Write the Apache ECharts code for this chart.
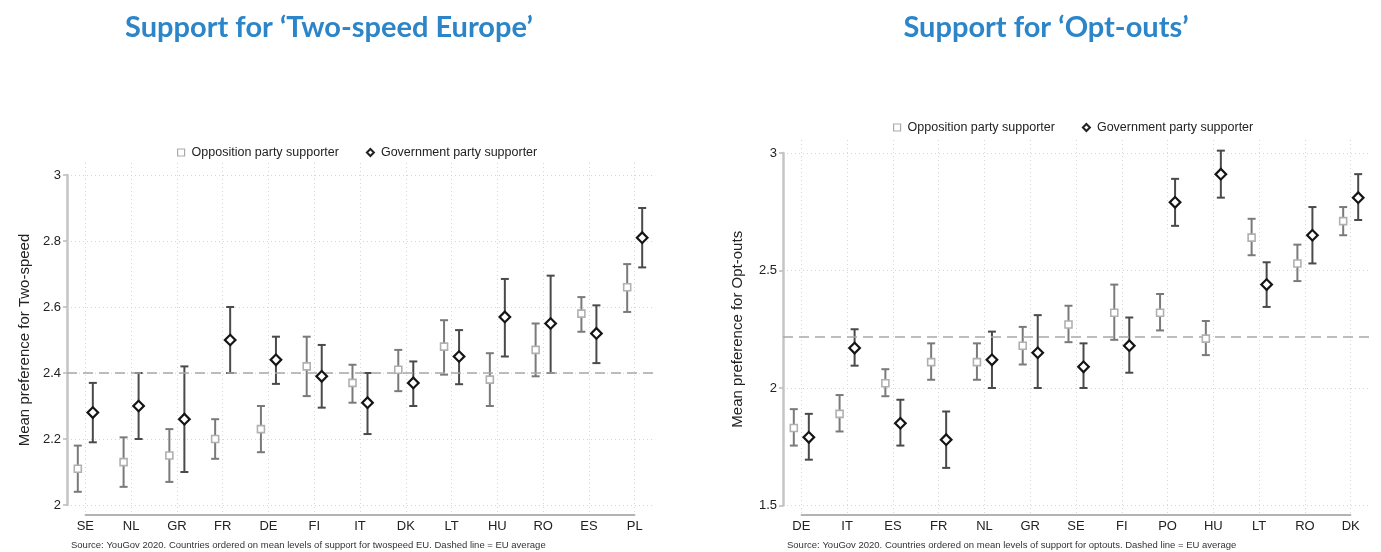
<!DOCTYPE html>
<html>
<head>
<meta charset="utf-8">
<script src="https://cdn.jsdelivr.net/npm/echarts@6/dist/echarts.min.js"></script>
<style>
html,body{margin:0;padding:0;background:#fff;}
#chart{width:1381px;height:552px;}
</style>
</head>
<body>
<div id="chart"></div>
<script>
// ---------- DATA ----------
const twoCats = ['SE','NL','GR','FR','DE','FI','IT','DK','LT','HU','RO','ES','PL'];
const twoOppMean = [2.11,2.13,2.15,2.20,2.23,2.42,2.37,2.41,2.48,2.38,2.47,2.58,2.66];
const twoOppLow  = [2.04,2.055,2.07,2.14,2.16,2.33,2.31,2.345,2.395,2.30,2.39,2.525,2.585];
const twoOppHigh = [2.18,2.205,2.23,2.26,2.30,2.51,2.425,2.47,2.56,2.46,2.55,2.63,2.73];
const twoGovMean = [2.28,2.30,2.26,2.50,2.44,2.39,2.31,2.37,2.45,2.57,2.55,2.52,2.81];
const twoGovLow  = [2.19,2.20,2.10,2.40,2.367,2.295,2.215,2.30,2.366,2.45,2.40,2.43,2.72];
const twoGovHigh = [2.37,2.40,2.42,2.60,2.51,2.485,2.40,2.435,2.53,2.685,2.695,2.605,2.90];
const twoEUAvg = 2.395;

const optCats = ['DE','IT','ES','FR','NL','GR','SE','FI','PO','HU','LT','RO','DK'];
const optOppMean = [1.83,1.89,2.02,2.11,2.11,2.18,2.27,2.32,2.32,2.21,2.64,2.53,2.71];
const optOppLow  = [1.755,1.815,1.965,2.035,2.035,2.10,2.195,2.205,2.245,2.14,2.565,2.455,2.65];
const optOppHigh = [1.91,1.97,2.08,2.19,2.19,2.26,2.35,2.44,2.40,2.285,2.72,2.61,2.77];
const optGovMean = [1.79,2.17,1.85,1.78,2.12,2.15,2.09,2.18,2.79,2.91,2.44,2.65,2.81];
const optGovLow  = [1.695,2.095,1.755,1.66,2.00,2.00,2.00,2.065,2.69,2.81,2.345,2.53,2.715];
const optGovHigh = [1.89,2.25,1.95,1.90,2.24,2.31,2.19,2.30,2.89,3.01,2.535,2.77,2.91];
const optEUAvg = 2.22;

const twoYTicks = [2, 3, 0.2];   // min, max, interval
const optYTicks = [1.5, 3, 0.5];

const OPP = 'Opposition party supporter';
const GOV = 'Government party supporter';
const SHIFT = 0.164;

// ---------- STYLE ----------
const FONT = '"Liberation Sans", Arial, Helvetica, sans-serif';
const OPP_BAR = '#7a7a7a', GOV_BAR = '#4a4a4a';

function errBar(color){
  return function(params, api){
    const x = api.value(0), lo = api.value(1), hi = api.value(2);
    const a = api.coord([x, hi]), b = api.coord([x, lo]);
    const c = 4;
    const st = {stroke: color, lineWidth: 2};
    return {type:'group', children:[
      {type:'line', shape:{x1:a[0],y1:a[1],x2:b[0],y2:b[1]}, style:st},
      {type:'line', shape:{x1:a[0]-c,y1:a[1],x2:a[0]+c,y2:a[1]}, style:st},
      {type:'line', shape:{x1:b[0]-c,y1:b[1],x2:b[0]+c,y2:b[1]}, style:st}
    ]};
  };
}

function panel(idx, cats, oppM, oppL, oppH, govM, govL, govH, avg, yt, geo){
  const g0 = idx*2, g1 = idx*2+1;
  const grids = [
    {left: geo.L, top: geo.yTop, width: 586, height: geo.yH},
    {left: geo.L + 0.4*586/12.8, top: geo.gTop, width: 12*586/12.8, height: 515 - geo.gTop}
  ];
  const xAxes = [
    {gridIndex:g0, type:'value', min:0.6, max:13.4, show:false},
    {gridIndex:g1, type:'value', min:1, max:13, interval:1, position:'bottom',
     axisLine:{show:true, lineStyle:{color:'#9a9a9a', width:1.5}},
     axisTick:{show:false},
     axisLabel:{margin:5, fontSize:13, color:'#222', fontFamily:FONT,
       formatter: v => cats[Math.round(v)-1] || ''},
     splitLine:{show:true, lineStyle:{color:'#d6d6d6', type:[1,3], width:1}}}
  ];
  const yAxes = [
    {gridIndex:g0, type:'value', min:yt[0], max:yt[1], interval:yt[2],
     name: geo.yName, nameLocation:'middle', nameRotate:90, nameGap: geo.nameGap,
     nameTextStyle:{fontSize:15, color:'#222', fontFamily:FONT},
     axisLine:{show:true, lineStyle:{color:'#c4c4c4', width:2.5}},
     axisTick:{show:true, length:4, lineStyle:{color:'#bbb', width:1.5}},
     axisLabel:{margin:6, fontSize:13, color:'#222', fontFamily:FONT},
     splitLine:{show:true, lineStyle:{color:'#d6d6d6', type:[1,3], width:1}}},
    {gridIndex:g1, type:'value', min:0, max:1, show:false}
  ];
  const oppX = cats.map((c,i)=> i+1-SHIFT);
  const govX = cats.map((c,i)=> i+1+SHIFT);
  const series = [
    {type:'custom', xAxisIndex:g0, yAxisIndex:g0, renderItem: errBar(OPP_BAR), clip:false, z:3,
     data: oppX.map((x,i)=>[x, oppL[i], oppH[i]]), silent:true},
    {type:'custom', xAxisIndex:g0, yAxisIndex:g0, renderItem: errBar(GOV_BAR), clip:false, z:3,
     data: govX.map((x,i)=>[x, govL[i], govH[i]]), silent:true},
    {name: OPP, type:'scatter', xAxisIndex:g0, yAxisIndex:g0, symbol:'rect', symbolSize:7, z:5,
     itemStyle:{color:'#fff', borderColor:'#b0b0b0', borderWidth:1.6, opacity:1},
     data: oppX.map((x,i)=>[x, oppM[i]]),
     markLine:{silent:true, symbol:'none', label:{show:false},
       lineStyle:{color:'#a8a8a8', type:[10,6], width:1.5},
       data:[{yAxis: avg}]}},
    {name: GOV, type:'scatter', xAxisIndex:g0, yAxisIndex:g0, symbol:'rect', symbolRotate:45, symbolSize:7.5, z:6,
     itemStyle:{color:'#fff', borderColor:'#151515', borderWidth:2.2, opacity:1},
     data: govX.map((x,i)=>[x, govM[i]])}
  ];
  const legend = {
    left: geo.legL, top: geo.legT, itemWidth:7, itemHeight:7, itemGap:27, selectedMode:false,
    textStyle:{fontSize:12.5, color:'#222', fontFamily:FONT, padding:[0,0,0,2]},
    data:[
      {name: OPP, icon:'rect', itemStyle:{color:'#fff', borderColor:'#aaa', borderWidth:1.2}},
      {name: GOV, icon:'path://M5,0L10,5L5,10L0,5Z', itemStyle:{color:'#fff', borderColor:'#222', borderWidth:2}}
    ]
  };
  return {grids, xAxes, yAxes, series, legend};
}

const P1 = panel(0, twoCats, twoOppMean, twoOppLow, twoOppHigh, twoGovMean, twoGovLow, twoGovHigh, twoEUAvg, twoYTicks,
  {L:67, yTop:175, yH:330, gTop:163, yName:'Mean preference for Two-speed', legL:172, legT:141, nameGap:35});
const P2 = panel(1, optCats, optOppMean, optOppLow, optOppHigh, optGovMean, optGovLow, optGovHigh, optEUAvg, optYTicks,
  {L:783, yTop:153, yH:352.5, gTop:140, yName:'Mean preference for Opt-outs', legL:888, legT:116, nameGap:38});

const chart = echarts.init(document.getElementById('chart'), null, {renderer:'canvas'});
chart.setOption({
  backgroundColor:'#fff',
  animation:false,
  grid: [...P1.grids, ...P2.grids],
  xAxis: [...P1.xAxes, ...P2.xAxes],
  yAxis: [...P1.yAxes, ...P2.yAxes],
  series: [...P1.series, ...P2.series],
  legend: [P1.legend, P2.legend],
  graphic: [
    {type:'text', x:329, y:28, style:{text:'Support for \u2018Two-speed Europe\u2019', textAlign:'center', textVerticalAlign:'middle',
      fill:'#2B85C8', font:'bold 29px Lato, "Open Sans", sans-serif'}},
    {type:'text', x:1046, y:28, style:{text:'Support for \u2018Opt-outs\u2019', textAlign:'center', textVerticalAlign:'middle',
      fill:'#2B85C8', font:'bold 29px Lato, "Open Sans", sans-serif'}},
    {type:'text', x:71, y:545, style:{text:'Source: YouGov 2020. Countries ordered on mean levels of support for twospeed EU. Dashed line = EU average',
      textVerticalAlign:'middle', fill:'#333', font:'9.5px ' + FONT}},
    {type:'text', x:787, y:545, style:{text:'Source: YouGov 2020. Countries ordered on mean levels of support for optouts. Dashed line = EU average',
      textVerticalAlign:'middle', fill:'#333', font:'9.5px ' + FONT}}
  ]
});
</script>
</body>
</html>
